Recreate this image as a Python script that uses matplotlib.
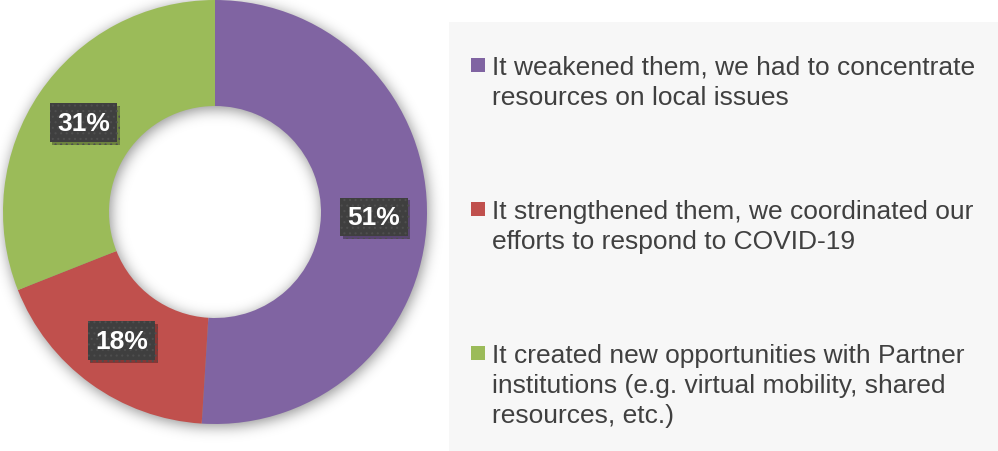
import numpy as np
import matplotlib
matplotlib.use('Agg')
import matplotlib.pyplot as plt
import matplotlib.patheffects as pe
from matplotlib.patches import Rectangle

labels = ['It weakened them, we had to concentrate\nresources on local issues',
          'It strengthened them, we coordinated our\nefforts to respond to COVID-19',
          'It created new opportunities with Partner\ninstitutions (e.g. virtual mobility, shared\nresources, etc.)']
shares = [51, 18, 31]
colors = ['#8064A2', '#C0504D', '#9BBB59']

plt.rcParams['font.family'] = ['Liberation Sans', 'DejaVu Sans']
plt.rcParams['hatch.linewidth'] = 0.8

W, H = 998, 452
fig = plt.figure(figsize=(W / 100, H / 100), dpi=100)

# donut, laid out in pixel units
cx, cy, R, ring = 215, 213, 212, 106
ax = fig.add_axes([0, 0, 1, 1])

# soft drop shadow under the ring
pad = 40
yy, xx = np.mgrid[-pad:H + pad, -pad:W + pad]
rr = np.hypot(xx - (cx + 1), yy - (cy + 2))
mask = ((rr <= R) & (rr >= R - ring)).astype(float)
sig = 7.0
fy = np.fft.fftfreq(mask.shape[0])[:, None]
fx = np.fft.rfftfreq(mask.shape[1])[None, :]
g = np.exp(-2 * np.pi ** 2 * sig ** 2 * (fx ** 2 + fy ** 2))
blur = np.fft.irfft2(np.fft.rfft2(mask) * g, s=mask.shape)[pad:-pad, pad:-pad]
shadow = np.zeros((H, W, 4))
shadow[..., 3] = np.clip(blur, 0, 1) * 0.45
ax.imshow(shadow, extent=(0, W, 0, H), origin='upper', zorder=0, interpolation='bilinear')

wedges, _ = ax.pie(shares, colors=colors, startangle=90, counterclock=False,
                   radius=R, center=(cx, H - cy),
                   wedgeprops=dict(width=ring, linewidth=0))
ax.set_xlim(0, W)
ax.set_ylim(0, H)
ax.set_aspect('auto')
ax.axis('off')

box = dict(boxstyle='square,pad=0.28', facecolor='#3f3f3f', edgecolor='#4e4e4e',
           linewidth=0, hatch='...')
for w, v in zip(wedges, shares):
    mid = np.radians((w.theta1 + w.theta2) / 2)
    r = R - ring / 2
    x, y = cx + r * np.cos(mid), H - cy + r * np.sin(mid)
    t = ax.text(x, y, f'{v}%', ha='center', va='center', fontsize=19,
                fontweight='bold', color='white', bbox=box)
    t.get_bbox_patch().set_path_effects(
        [pe.SimplePatchShadow(offset=(2, -2), shadow_rgbFace='black', alpha=0.3),
         pe.Normal()])

# legend panel
lax = fig.add_axes([449 / W, 0, (W - 449) / W, (H - 23) / H])
lax.set_facecolor('#F7F7F7')
lax.set_xlim(449, W)
lax.set_ylim(H, 23)
lax.set_xticks([])
lax.set_yticks([])
for s in lax.spines.values():
    s.set_visible(False)

baselines = [75, 219, 363]
for lab, c, yb in zip(labels, colors, baselines):
    lax.add_patch(Rectangle((471, yb - 16), 14, 14, facecolor=c, linewidth=0))
    lax.text(492, yb - 19, lab, ha='left', va='top', fontsize=19,
             color='#404040', linespacing=1.32)

fig.savefig('out.png', dpi=100)
